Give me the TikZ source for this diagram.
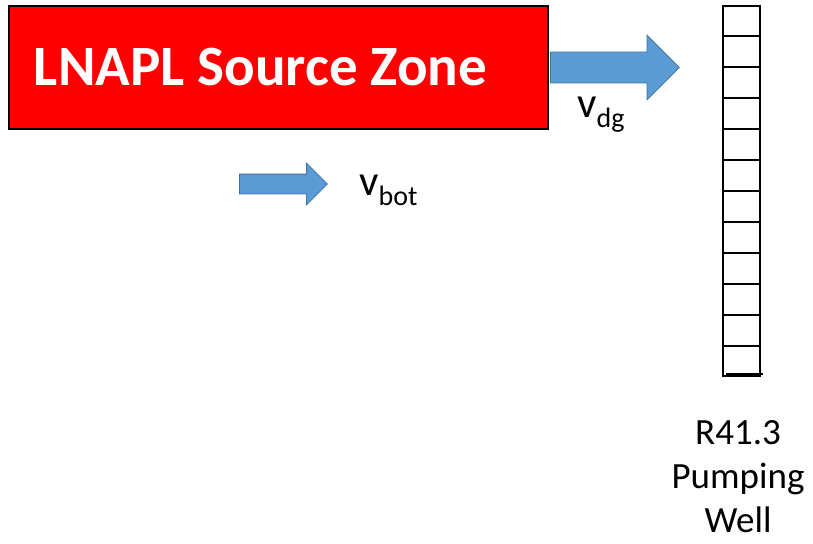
\documentclass[tikz,border=0pt]{standalone}
\usepackage{fontspec}
\setmainfont{Carlito}
\usetikzlibrary{shapes.arrows,calc}
\definecolor{srcred}{RGB}{255,0,0}
\definecolor{flowblue}{RGB}{91,155,213}
\definecolor{flowedge}{RGB}{65,113,156}
% velocity symbol with a lowered index
\newcommand{\vlbl}[1]{v\raisebox{-10pt}{\fontsize{28}{28}\selectfont #1}}

\begin{document}
\begin{tikzpicture}[x=1pt, y=-1pt,
    srcbox/.style={draw=black, line width=2pt, fill=srcred, minimum width=539pt,
      minimum height=123pt, inner sep=0pt},
    srclbl/.style={text=white, font=\fontsize{57}{57}\selectfont\bfseries, inner sep=0pt},
    flowarrow/.style={single arrow, draw=flowedge, fill=flowblue, line width=0.8pt,
      inner xsep=0pt, anchor=tail},
    vellbl/.style={font=\fontsize{43}{43}\selectfont, inner sep=0pt, anchor=base west},
    wellcell/.style={draw=black, line width=1.5pt},
    welllbl/.style={font=\fontsize{37}{44}\selectfont, align=center, inner sep=0pt, anchor=base}
  ]
  \useasboundingbox (0,0) rectangle (813,543);

  % source zone
  \node[srcbox] (src) at (278.5,67.5) {};
  \node[srclbl] (srctxt) at ([xshift=-18pt]src.center) {LNAPL Source Zone};

  % flow arrows (shaft = 2 x inner ysep)
  \node[flowarrow, minimum height=129pt, inner ysep=15pt,
    single arrow head extend=17pt] (dgarrow) at ([xshift=1pt]src.east) {};
  \node[flowarrow, minimum height=88pt, inner ysep=9.5pt,
    single arrow head extend=11pt] (botarrow) at (239,184) {};
  \node[vellbl] (vdg) at (577,117) {\vlbl{dg}};
  \node[vellbl] (vbot) at (359,195) {\vlbl{bot}};

  % pumping well, 12 cells
  \node[draw=black, line width=2pt, minimum width=37pt, minimum height=370pt,
    inner sep=0pt] (well) at (741,191) {};
  \foreach \k in {1,...,11} {
    \draw[wellcell] ($(well.north west)!\k/12!(well.south west)$)
      -- ($(well.north east)!\k/12!(well.south east)$);
  }
  \draw[wellcell] ([xshift=4pt,yshift=3pt]well.south west)
    -- ([xshift=2pt,yshift=3pt]well.south east);
  % label sits on the baseline of its last line
  \node[welllbl] (welltxt) at (738,532) {R41.3\\Pumping\\Well};
\end{tikzpicture}
\end{document}
